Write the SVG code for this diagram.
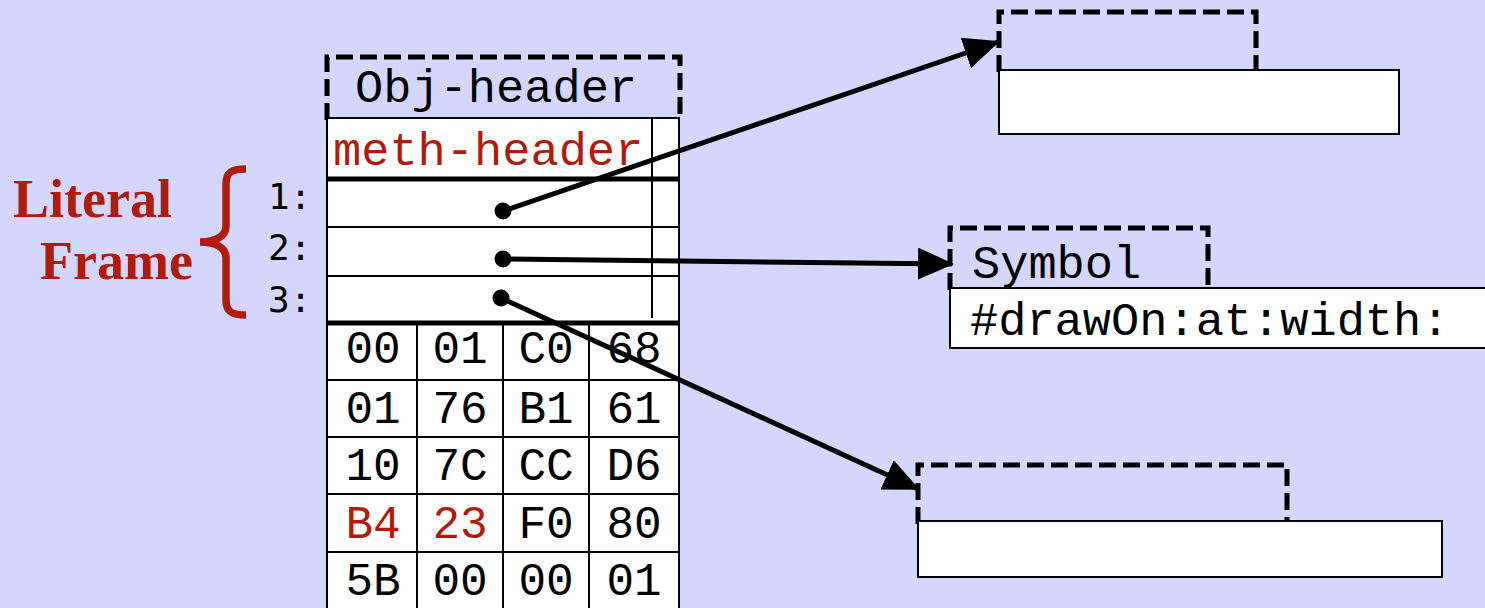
<svg xmlns="http://www.w3.org/2000/svg" width="1485" height="608" viewBox="0 0 1485 608">
<style>
.mono{font-family:"Liberation Mono","Courier New",monospace;font-size:47px;fill:#000}
.byte{font-family:"Liberation Mono","Courier New",monospace;font-size:46px;fill:#000;text-anchor:middle}
.red{fill:#b01c0c}
.idx{font-family:"DejaVu Sans Mono",monospace;font-size:36px;fill:#000}
.lbl{font-family:"Liberation Serif","Times New Roman",serif;font-weight:bold;font-size:54px;fill:#b01c0c}
.dash{fill:none;stroke:#000;stroke-width:5;stroke-dasharray:17 7}
.cell{fill:#fff;stroke:#000;stroke-width:2}
.thin{stroke:#000;stroke-width:2;fill:none}
.thick{stroke:#000;stroke-width:5;fill:none}
.conn{stroke:#000;stroke-width:5;fill:none}
</style>
<defs>
<marker id="arr" markerUnits="userSpaceOnUse" markerWidth="36" markerHeight="32" viewBox="0 0 36 32" refX="34" refY="16" orient="auto">
<path d="M0,0 L36,16 L0,32 Z" fill="#000"/>
</marker>
</defs>
<rect x="0" y="0" width="1485" height="608" fill="#d5d6fe"/>

<g id="label-literal-frame">
<text class="lbl" x="13" y="217">Literal</text>
<text class="lbl" x="40" y="279">Frame</text>
<path d="M246,169 C232,169 226,172 226,184 L226,226 C226,236 216,242 200,242 C216,242 226,248 226,258 L226,300 C226,312 232,315 246,315" fill="none" stroke="#b01c0c" stroke-width="7.5"/>
</g>

<g id="indices">
<text class="idx" x="268" y="209">1:</text>
<text class="idx" x="268" y="260">2:</text>
<text class="idx" x="268" y="312">3:</text>
</g>

<g id="method-object">
<path class="dash" d="M327,120 V57 H680 V120"/>
<text class="mono" x="355" y="102">Obj-header</text>
<rect class="cell" x="327" y="118" width="352" height="500"/>
<text class="mono red" x="333" y="165">meth-header</text>
<line class="thin" x1="652" y1="117" x2="652" y2="318"/>
<line class="thick" x1="327" y1="179" x2="679" y2="179"/>
<line class="thin" x1="327" y1="227" x2="679" y2="227"/>
<line class="thin" x1="327" y1="276" x2="679" y2="276"/>
<line class="thick" x1="327" y1="323" x2="679" y2="323"/>
<line class="thin" x1="327" y1="380" x2="679" y2="380"/>
<line class="thin" x1="327" y1="437" x2="679" y2="437"/>
<line class="thin" x1="327" y1="494" x2="679" y2="494"/>
<line class="thin" x1="327" y1="552" x2="679" y2="552"/>
<line class="thin" x1="417" y1="323" x2="417" y2="608"/>
<line class="thin" x1="503" y1="323" x2="503" y2="608"/>
<line class="thin" x1="589" y1="323" x2="589" y2="608"/>
<text class="byte" x="373" y="363">00</text>
<text class="byte" x="460" y="363">01</text>
<text class="byte" x="546" y="363">C0</text>
<text class="byte" x="634" y="363">68</text>
<text class="byte" x="373" y="423">01</text>
<text class="byte" x="460" y="423">76</text>
<text class="byte" x="546" y="423">B1</text>
<text class="byte" x="634" y="423">61</text>
<text class="byte" x="373" y="480">10</text>
<text class="byte" x="460" y="480">7C</text>
<text class="byte" x="546" y="480">CC</text>
<text class="byte" x="634" y="480">D6</text>
<text class="byte red" x="373" y="538">B4</text>
<text class="byte red" x="460" y="538">23</text>
<text class="byte" x="546" y="538">F0</text>
<text class="byte" x="634" y="538">80</text>
<text class="byte" x="373" y="595">5B</text>
<text class="byte" x="460" y="595">00</text>
<text class="byte" x="546" y="595">00</text>
<text class="byte" x="634" y="595">01</text>
</g>

<g id="literal-1-object">
<path class="dash" d="M999,72 V12 H1256 V70"/>
<rect class="cell" x="999" y="70" width="400" height="64"/>
</g>

<g id="symbol-object">
<path class="dash" d="M950,290 V228 H1208 V288"/>
<text class="mono" x="972" y="278">Symbol</text>
<rect class="cell" x="950" y="288" width="545" height="60"/>
<text class="mono" x="970" y="335">#drawOn:at:width:</text>
</g>

<g id="literal-3-object">
<path class="dash" d="M918,524 V465 H1287 V521"/>
<rect class="cell" x="918" y="521" width="524" height="56"/>
</g>

<g id="connectors">
<line class="conn" x1="503" y1="211" x2="998" y2="42" marker-end="url(#arr)"/>
<circle cx="503" cy="211" r="8.5" fill="#000"/>
<line class="conn" x1="503" y1="259" x2="952" y2="264" marker-end="url(#arr)"/>
<circle cx="503" cy="259" r="8.5" fill="#000"/>
<line class="conn" x1="501" y1="298" x2="918" y2="489" marker-end="url(#arr)"/>
<circle cx="501" cy="298" r="8.5" fill="#000"/>
</g>
</svg>
